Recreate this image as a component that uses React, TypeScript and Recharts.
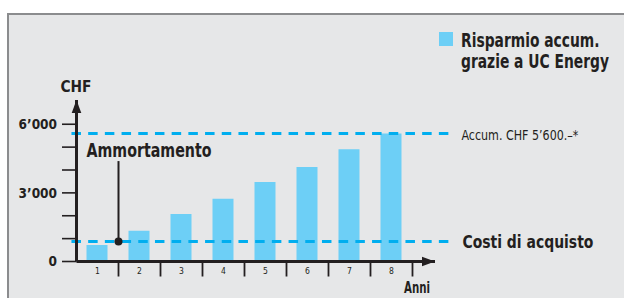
import React from "react";
import {
  BarChart,
  Bar,
  XAxis,
  YAxis,
  ReferenceLine,
  ReferenceDot,
  Legend,
  Label,
} from "recharts";

// savings per year (CHF)
const YEARS = [1, 2, 3, 4, 5, 6, 7, 8];
const SAVINGS = [720, 1340, 2080, 2740, 3480, 4130, 4910, 5600];
const YEAR_BOUNDS = [1.5, 2.5, 3.5, 4.5, 5.5, 6.5, 7.5, 8.5];
const Y_TICKS = [0, 1000, 2000, 3000, 4000, 5000, 6000];
const Y_LABELED = [0, 3000, 6000];

const ACCUM_TOTAL = 5600;
const PURCHASE_COST = 870;
const PAYBACK_YEAR = 1.5;
const PAYBACK_LABEL_TOP = 4390;

const X_DOMAIN: [number, number] = [0.5, 9.036];
const Y_DOMAIN: [number, number] = [0, 7060];
const DASH_RANGE: [number, number] = [0.38, 9.38];

const LEGEND_NAME = "Risparmio accum.\ngrazie a UC Energy";
const ACCUM_TEXT = "Accum. CHF 5’600.–*";
const COST_TEXT = "Costi di acquisto";
const PAYBACK_TEXT = "Ammortamento";

const data = YEARS.map((year, i) => ({ year, savings: SAVINGS[i] }));

const FONT = '"DejaVu Sans Condensed", "Liberation Sans Narrow", sans-serif';
const INK = "#231f20";
const BAR = "#6dcff6";
const DASH = "#00aeef";

const fmtChf = (v: number) => {
  if (!Y_LABELED.includes(v)) return "";
  if (v === 0) return "0";
  const s = String(v);
  return s.slice(0, s.length - 3) + "’" + s.slice(-3);
};

// the original face is a narrow one, so squeeze DejaVu Condensed to the same width
const NarrowText = ({ x, y, size, width, bold, anchor, children }: any) => (
  <text
    x={x}
    y={y}
    fontSize={size}
    fontWeight={bold ? 700 : 400}
    fill={INK}
    fontFamily={FONT}
    textAnchor={anchor ?? "start"}
    textLength={width}
    lengthAdjust="spacingAndGlyphs"
  >
    {children}
  </text>
);

// integer ticks get the year label, half ticks get the separator mark
const YearTick = (props: any) => {
  const { x, y, payload } = props;
  const v = payload.value;
  if (Number.isInteger(v)) {
    return (
      <text x={x} y={y + 12.5} textAnchor="middle" fontSize={8.5} fill={INK} fontFamily={FONT}>
        {v}
      </text>
    );
  }
  return <line x1={x} x2={x} y1={y} y2={y + 15} stroke={INK} strokeWidth={1.8} />;
};

const renderLegend = (props: any) => {
  const item = props.payload?.[0];
  const lines = String(item?.value ?? "").split("\n");
  return (
    <div style={{ display: "flex", alignItems: "flex-start", fontFamily: FONT }}>
      <div
        style={{
          width: 14,
          height: 14,
          flexShrink: 0,
          background: item?.color ?? BAR,
          marginTop: 2.2,
          marginRight: 8,
        }}
      />
      <div
        style={{
          fontSize: 19,
          lineHeight: "21.6px",
          fontWeight: 700,
          color: INK,
          whiteSpace: "nowrap",
          transform: "scaleX(0.81)",
          transformOrigin: "left top",
        }}
      >
        {lines.map((l) => (
          <div key={l}>{l}</div>
        ))}
      </div>
    </div>
  );
};

export default function App() {
  return (
    <div style={{ position: "fixed", left: 0, top: 0, width: 625, height: 298, background: "#fff" }}>
      <div
        style={{
          position: "absolute",
          left: 7,
          top: 13,
          width: 617,
          height: 285,
          boxSizing: "border-box",
          background: "#e6e7e8",
          borderTop: "2.5px solid #8b8c8e",
          borderLeft: "2.5px solid #8b8c8e",
        }}
      />
      <div style={{ position: "absolute", left: 0, top: 0, overflow: "hidden", width: 625, height: 298 }}>
        <BarChart width={625} height={298} data={data} margin={{ top: 100, right: 190, bottom: 0, left: 0 }}>
          <XAxis
            dataKey="year"
            type="number"
            domain={X_DOMAIN}
            ticks={[...YEARS, ...YEAR_BOUNDS].sort((a, b) => a - b)}
            interval={0}
            allowDataOverflow
            height={36.5}
            tickSize={0}
            tickMargin={0}
            tickLine={false}
            tick={<YearTick />}
            axisLine={{ stroke: INK, strokeWidth: 3 }}
          >
            <Label
              content={(p: any) => {
                const vb = p.viewBox;
                return (
                  <NarrowText x={vb.x + vb.width - 31} y={vb.y + 31.2} size={15} width={26} bold>
                    Anni
                  </NarrowText>
                );
              }}
            />
          </XAxis>
          <YAxis
            type="number"
            domain={Y_DOMAIN}
            ticks={Y_TICKS}
            interval={0}
            allowDataOverflow
            width={76.5}
            tickSize={14.5}
            tickMargin={5}
            tickFormatter={fmtChf}
            tickLine={{ stroke: INK, strokeWidth: 1.6 }}
            axisLine={{ stroke: INK, strokeWidth: 3 }}
            tick={{ fill: INK, fontSize: 13.5, fontWeight: 700, fontFamily: FONT }}
          >
            <Label
              content={(p: any) => {
                const vb = p.viewBox;
                return (
                  <NarrowText x={vb.x + vb.width - 16} y={vb.y - 8.3} size={16} width={31} bold>
                    CHF
                  </NarrowText>
                );
              }}
            />
          </YAxis>
          <Legend
            layout="horizontal"
            verticalAlign="middle"
            align="center"
            content={renderLegend}
            wrapperStyle={{ left: 439, top: 29.5, width: 260, height: 50 }}
          />
          <Bar dataKey="savings" name={LEGEND_NAME} fill={BAR} barSize={21} isAnimationActive={false} />
          <ReferenceLine
            segment={[
              { x: DASH_RANGE[0], y: ACCUM_TOTAL },
              { x: DASH_RANGE[1], y: ACCUM_TOTAL },
            ]}
            ifOverflow="visible"
            stroke={DASH}
            strokeWidth={3}
            strokeDasharray="9.5 7.2"
          >
            <Label
              content={(p: any) => {
                const vb = p.viewBox;
                return (
                  <NarrowText x={vb.x + vb.width + 12} y={vb.y + 6.4} size={14.5} width={117}>
                    {ACCUM_TEXT}
                  </NarrowText>
                );
              }}
            />
          </ReferenceLine>
          <ReferenceLine
            segment={[
              { x: DASH_RANGE[0], y: PURCHASE_COST },
              { x: DASH_RANGE[1], y: PURCHASE_COST },
            ]}
            ifOverflow="visible"
            stroke={DASH}
            strokeWidth={3}
            strokeDasharray="9.5 7.2"
          >
            <Label
              content={(p: any) => {
                const vb = p.viewBox;
                return (
                  <NarrowText x={vb.x + vb.width + 13} y={vb.y + 6.2} size={17.5} width={131} bold>
                    {COST_TEXT}
                  </NarrowText>
                );
              }}
            />
          </ReferenceLine>
          <ReferenceLine
            segment={[
              { x: PAYBACK_YEAR, y: PURCHASE_COST },
              { x: PAYBACK_YEAR, y: PAYBACK_LABEL_TOP },
            ]}
            ifOverflow="visible"
            stroke={INK}
            strokeWidth={2}
          >
            <Label
              content={(p: any) => {
                const vb = p.viewBox;
                return (
                  <NarrowText x={vb.x - 32} y={vb.y - 4.5} size={19} width={125} bold>
                    {PAYBACK_TEXT}
                  </NarrowText>
                );
              }}
            />
          </ReferenceLine>
          <ReferenceDot x={PAYBACK_YEAR} y={PURCHASE_COST} r={4} fill={INK} stroke="none" ifOverflow="visible" />
          {/* arrow heads at the ends of both axes */}
          <ReferenceDot
            x={X_DOMAIN[1]}
            y={0}
            ifOverflow="visible"
            shape={(p: any) => (
              <polygon
                points={`${p.cx},${p.cy} ${p.cx - 13},${p.cy - 4.8} ${p.cx - 13},${p.cy + 4.8}`}
                fill={INK}
              />
            )}
          />
          <ReferenceDot
            x={X_DOMAIN[0]}
            y={Y_DOMAIN[1]}
            ifOverflow="visible"
            shape={(p: any) => (
              <polygon
                points={`${p.cx},${p.cy} ${p.cx - 4.8},${p.cy + 13} ${p.cx + 4.8},${p.cy + 13}`}
                fill={INK}
              />
            )}
          />
        </BarChart>
      </div>
    </div>
  );
}
